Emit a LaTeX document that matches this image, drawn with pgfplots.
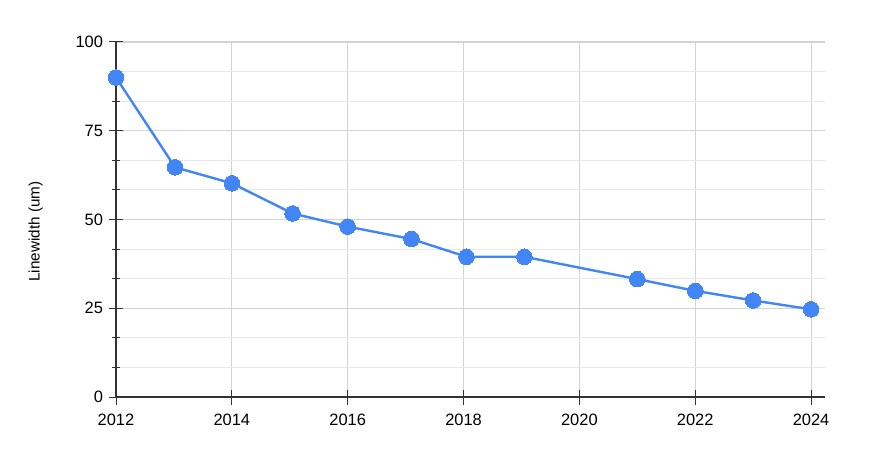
\documentclass[border=0pt]{standalone}
\usepackage{fontspec}
\setmainfont{Liberation Sans}
\usepackage{pgfplots}
\pgfplotsset{compat=1.18}

\definecolor{lineblue}{HTML}{4285F4}
\definecolor{majgrid}{HTML}{D3D3D3}
\definecolor{mingrid}{HTML}{E8E8E8}
\definecolor{axisdark}{HTML}{333333}

\begin{document}
\begin{tikzpicture}
\path[use as bounding box] (-116bp,-53bp) rectangle (758bp,397bp);
\begin{axis}[
    at={(0,0)}, anchor=south west,
    scale only axis,
    width=709bp, height=355bp,
    xmin=2012, xmax=2024.24,
    ymin=0, ymax=100,
    axis x line*=bottom, axis y line*=left,
    axis line style={axisdark, line width=1.2pt, -},
    xtick={2012,2014,...,2024},
    ytick={0,25,50,75,100},
    minor x tick num=2, minor y tick num=2,
    tick align=center,
    major tick length=15bp, minor tick length=7.5bp,
    tick style={axisdark, line width=1pt},
    grid=both,
    major grid style={majgrid, line width=1.2pt},
    minor grid style={mingrid, line width=1pt},
    /pgf/number format/assume math mode=true,
    /pgf/number format/1000 sep={},
    tick label style={font=\fontsize{16.5}{19}\selectfont, text=black},
    xticklabel style={yshift=-6bp},
    yticklabel style={xshift=-2bp},
    ylabel={Linewidth (um)},
    ylabel style={font=\fontsize{15.3}{18}\selectfont,
                  at={(ticklabel cs:0.466)}, yshift=26bp},
    clip=false,
]
\addplot[lineblue, line width=2.4bp, mark=*, mark size=7.8bp,
         mark options={fill=lineblue, draw=lineblue, line width=0pt}]
coordinates {
    (2012,90) (2013.02,64.7) (2014,60.2) (2015.05,51.7) (2016,48.0)
    (2017.1,44.5) (2018.05,39.5) (2019.05,39.5) (2021,33.2)
    (2022,29.9) (2023,27.2) (2024,24.7)
};
\end{axis}
\end{tikzpicture}
\end{document}
